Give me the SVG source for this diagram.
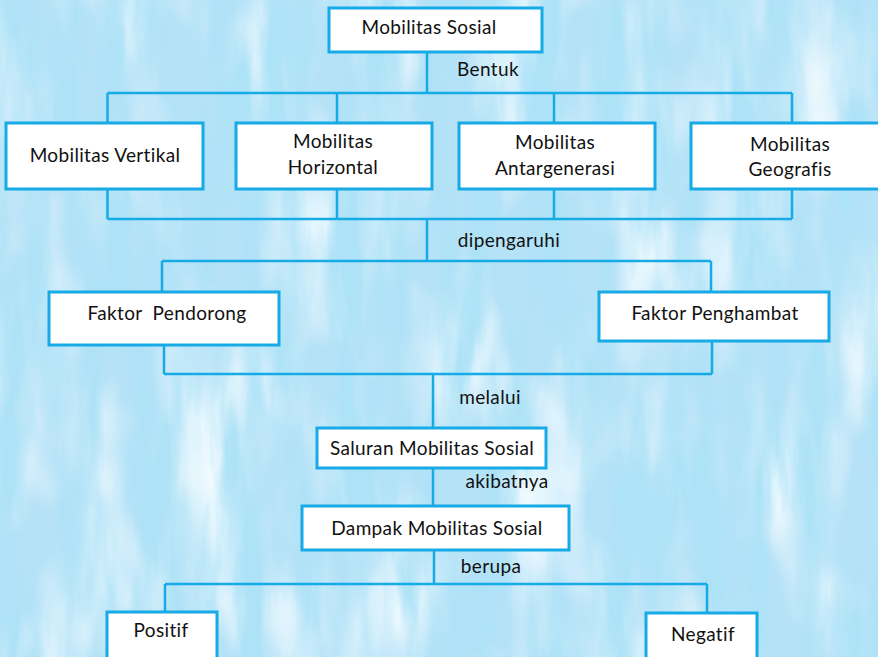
<svg xmlns="http://www.w3.org/2000/svg" width="878" height="657" viewBox="0 0 878 657">
<style>
.box{fill:#ffffff;stroke:#16aae6;stroke-width:3}
.ln{fill:none;stroke:#16aae6;stroke-width:2.5}
text{font-family:Lato,"Open Sans","Liberation Sans",sans-serif;font-size:19px;letter-spacing:0.35px;fill:#111;text-anchor:middle;font-variant-ligatures:none}
</style>
<defs>
<filter id="tex" x="0" y="0" width="100%" height="100%">
<feTurbulence type="fractalNoise" baseFrequency="0.03 0.005" numOctaves="4" seed="7"/>
<feColorMatrix type="matrix" values="0 0 0 0 0.42  0 0 0 0 0.76  0 0 0 0 0.93  2.8 0 0 0 -1.0"/>
</filter>
<filter id="tex2" x="0" y="0" width="100%" height="100%">
<feTurbulence type="fractalNoise" baseFrequency="0.012 0.006" numOctaves="3" seed="21"/>
<feColorMatrix type="matrix" values="0 0 0 0 0.90  0 0 0 0 0.97  0 0 0 0 1  2.4 0 0 0 -1.0"/>
</filter>
</defs>
<g id="background">
<rect x="0" y="0" width="878" height="657" fill="#b6e2f7"/>
<rect x="0" y="0" width="878" height="657" filter="url(#tex2)"/>
<rect x="0" y="0" width="878" height="657" filter="url(#tex)"/>
</g>
<g id="connectors">
<path class="ln" d="M427 52V93M107.5 93H792M107.5 93V123M337 93V123M554 93V123M792 93V123"/>
<path class="ln" d="M107.5 189V219M337 189V219M554 189V219M792 189V219M107.5 219H792M427 219V261M162 261H711M162 261V292M711 261V292"/>
<path class="ln" d="M164 345V374M712 341V374M164 374H712M433 374V428M433 468V506M434 550V584M165 584H707M165 584V612M707 584V613"/>
</g>
<g id="labels">
<text x="488" y="76">Bentuk</text>
<text x="509" y="247">dipengaruhi</text>
<text x="490" y="404">melalui</text>
<text x="507" y="488">akibatnya</text>
<text x="491" y="573">berupa</text>
</g>
<g id="n-mobilitas-sosial"><rect class="box" x="329" y="8" width="213" height="44"/><text x="429" y="34">Mobilitas Sosial</text></g>
<g id="n-vertikal"><rect class="box" x="6" y="123" width="197" height="66"/><text x="105" y="162">Mobilitas Vertikal</text></g>
<g id="n-horizontal"><rect class="box" x="236" y="123" width="196" height="66"/><text x="333" y="148">Mobilitas</text><text x="333" y="174">Horizontal</text></g>
<g id="n-antargenerasi"><rect class="box" x="459" y="123" width="196" height="66"/><text x="555" y="149">Mobilitas</text><text x="555" y="175">Antargenerasi</text></g>
<g id="n-geografis"><rect class="box" x="691" y="123" width="192" height="66"/><text x="790" y="151">Mobilitas</text><text x="790" y="176">Geografis</text></g>
<g id="n-pendorong"><rect class="box" x="49" y="292" width="230" height="53"/><text x="167" y="320" xml:space="preserve">Faktor  Pendorong</text></g>
<g id="n-penghambat"><rect class="box" x="599" y="292" width="230" height="49"/><text x="715" y="320">Faktor Penghambat</text></g>
<g id="n-saluran"><rect class="box" x="317" y="428" width="229" height="40"/><text x="432" y="455">Saluran Mobilitas Sosial</text></g>
<g id="n-dampak"><rect class="box" x="302" y="506" width="267" height="44"/><text x="437" y="535">Dampak Mobilitas Sosial</text></g>
<g id="n-positif"><rect class="box" x="107" y="612" width="110" height="60"/><text x="161" y="637">Positif</text></g>
<g id="n-negatif"><rect class="box" x="646" y="613" width="111" height="60"/><text x="703" y="641">Negatif</text></g>
</svg>
